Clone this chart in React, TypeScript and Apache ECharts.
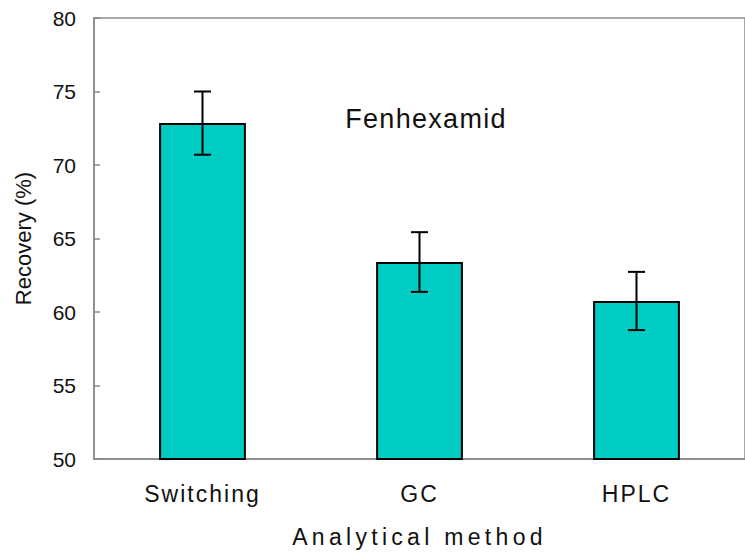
import React, { useEffect, useRef } from "react";
import * as echarts from "echarts";

const categories = ["Switching", "GC", "HPLC"];
const recovery = [72.85, 63.4, 60.75];
const errors = [2.15, 2.03, 1.98];
const yTicks = { min: 50, max: 80, interval: 5 };
const chartTitle = "Fenhexamid";
const xName = "Analytical method";
const yName = "Recovery (%)";

const FONT = "'Liberation Sans', Arial, sans-serif";

export default function App() {
  const ref = useRef<HTMLDivElement>(null);
  useEffect(() => {
    document.body.style.margin = "0";
    const el = ref.current!;
    const chart = echarts.init(el, null, { renderer: "svg" });
    const errData = categories.map((_, i) => [i, recovery[i], errors[i]]);
    chart.setOption({
      animation: false,
      backgroundColor: "#ffffff",
      grid: {
        left: 94,
        right: -15,
        top: 18,
        bottom: 95,
        show: true,
        borderColor: "#8a8a8a",
        borderWidth: 1.5,
        backgroundColor: "transparent",
      },
      graphic: [
        {
          type: "text",
          x: 426,
          y: 119,
          style: {
            text: chartTitle,
            font: `27px ${FONT}`,
            fill: "#111",
            textAlign: "center",
            textVerticalAlign: "middle",
          },
        },
      ],
      xAxis: {
        type: "category",
        data: categories,
        boundaryGap: true,
        name: xName,
        nameLocation: "middle",
        nameGap: 66,
        nameTextStyle: { fontSize: 23, fontFamily: FONT, color: "#111" },
        axisLine: { lineStyle: { color: "#8a8a8a", width: 1.5 } },
        axisTick: { inside: true, length: 7, lineStyle: { color: "#8a8a8a", width: 1.5 } },
        axisLabel: { margin: 23, fontSize: 23, fontFamily: FONT, color: "#111" },
        splitLine: { show: false },
      },
      yAxis: {
        type: "value",
        min: yTicks.min,
        max: yTicks.max,
        interval: yTicks.interval,
        name: yName,
        nameLocation: "middle",
        nameGap: 60,
        nameTextStyle: { fontSize: 22, fontFamily: FONT, color: "#111" },
        axisLine: { show: true, lineStyle: { color: "#8a8a8a", width: 1.5 } },
        axisTick: { show: true, inside: true, length: 6, lineStyle: { color: "#8a8a8a", width: 1.5 } },
        axisLabel: { margin: 18, fontSize: 21, fontFamily: FONT, color: "#111" },
        splitLine: { show: false },
      },
      series: [
        {
          type: "bar",
          data: recovery,
          barWidth: "40%",
          itemStyle: { color: "#00ccc4", borderColor: "#000", borderWidth: 2 },
        },
        {
          type: "custom",
          data: errData,
          z: 10,
          renderItem: (params: any, api: any) => {
            const i = api.value(0);
            const v = api.value(1);
            const e = api.value(2);
            const top = api.coord([i, v + e]);
            const bot = api.coord([i, v - e]);
            const hw = 8.5;
            const style = { stroke: "#000", lineWidth: 2 };
            return {
              type: "group",
              children: [
                { type: "line", shape: { x1: top[0], y1: top[1], x2: bot[0], y2: bot[1] }, style },
                { type: "line", shape: { x1: top[0] - hw, y1: top[1], x2: top[0] + hw, y2: top[1] }, style },
                { type: "line", shape: { x1: bot[0] - hw, y1: bot[1], x2: bot[0] + hw, y2: bot[1] }, style },
              ],
            };
          },
        },
      ],
    });
    const spacing: Record<string, string> = {
      Switching: "2",
      GC: "2",
      HPLC: "2",
      [xName]: "4.3",
      [chartTitle]: "1.3",
    };
    const applySpacing = () => {
      el.querySelectorAll("text").forEach((t) => {
        const s = spacing[(t.textContent || "").trim()];
        if (s) t.setAttribute("letter-spacing", s);
      });
    };
    applySpacing();
    chart.on("finished", applySpacing);
    return () => chart.dispose();
  }, []);
  return <div ref={ref} style={{ width: 745, height: 554 }} />;
}
